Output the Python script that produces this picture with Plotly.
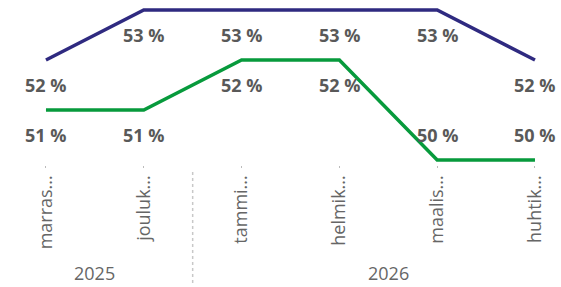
import plotly.graph_objects as go

categories = ["marras...", "jouluk...", "tammi...", "helmik...", "maalis...", "huhtik..."]
years = ["2025", "2026"]
year_spans = [(0, 1), (2, 5)]
purple_values = [52, 53, 53, 53, 53, 52]
green_values = [51, 51, 52, 52, 50, 50]

PURPLE = "#2f2a80"
GREEN = "#079a3c"
LABEL = "#595959"
AXIS = "#666666"

Y_MIN, Y_MAX = 49.9, 53.2
PX_PER_UNIT = 50
plot_h = (Y_MAX - Y_MIN) * PX_PER_UNIT
total_h = 287

x = list(range(len(categories)))
fig = go.Figure()
fig.add_trace(go.Scatter(x=x, y=purple_values, mode="lines",
                         line=dict(color=PURPLE, width=3.5), cliponaxis=False,
                         hoverinfo="skip"))
fig.add_trace(go.Scatter(x=x, y=green_values, mode="lines",
                         line=dict(color=GREEN, width=3.5), cliponaxis=False,
                         hoverinfo="skip"))

ann = []
for vals in (purple_values, green_values):
    lo = min(green_values)
    for xi, v in zip(x, vals):
        shift = 25 if v <= lo and vals is green_values else -25
        ann.append(dict(x=xi, y=v, xref="x", yref="y", text=f"{v} %",
                        showarrow=False, yshift=shift, yanchor="middle",
                        font=dict(family="Open Sans", size=18, color=LABEL, weight="bold")))
for yr, (a, b) in zip(years, year_spans):
    ann.append(dict(x=(a + b) / 2, y=(plot_h - 273) / plot_h, xref="x", yref="paper",
                    text=yr, showarrow=False, yanchor="middle",
                    font=dict(family="Open Sans", size=18, color=AXIS)))

fig.update_layout(
    width=561, height=total_h,
    margin=dict(l=0, r=0, t=0, b=total_h - plot_h),
    paper_bgcolor="white", plot_bgcolor="white",
    showlegend=False,
    annotations=ann,
    shapes=[dict(type="line", xref="x", yref="paper", x0=1.5, x1=1.5,
                 y0=(plot_h - 172) / plot_h, y1=(plot_h - 286) / plot_h,
                 line=dict(color="#c8c8c8", width=1.5, dash="dot"))],
    xaxis=dict(range=[-0.47, 5.266], tickvals=x, ticktext=categories,
               tickangle=-90, showgrid=False, zeroline=False, showline=False,
               ticks="outside", ticklen=2, tickcolor="#bbbbbb",
               tickfont=dict(family="Open Sans", size=18, color=AXIS)),
    yaxis=dict(range=[Y_MIN, Y_MAX], visible=False),
)
fig.write_html("out.html", config={"displayModeBar": False},
               post_script="document.body.style.margin='0';")
